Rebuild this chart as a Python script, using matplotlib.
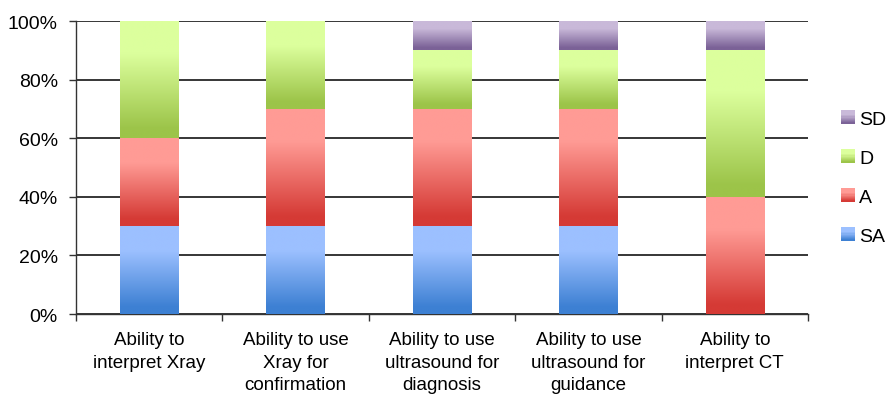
import numpy as np
import matplotlib
matplotlib.use("Agg")
import matplotlib.pyplot as plt
from matplotlib.colors import to_rgb
from matplotlib.patches import Rectangle
from matplotlib.legend_handler import HandlerBase

plt.rcParams['font.family'] = ['Liberation Sans', 'DejaVu Sans']

categories = ["Ability to\ninterpret Xray", "Ability to use\nXray for\nconfirmation",
              "Ability to use\nultrasound for\ndiagnosis", "Ability to use\nultrasound for\nguidance",
              "Ability to\ninterpret CT"]
series_names = ["SA", "A", "D", "SD"]
SA = [30, 30, 30, 30, 0]
A = [30, 40, 40, 40, 40]
D = [40, 30, 20, 20, 50]
SD = [0, 0, 10, 10, 10]
series_values = [SA, A, D, SD]
y_ticks = [0, 20, 40, 60, 80, 100]
y_tick_labels = ["0%", "20%", "40%", "60%", "80%", "100%"]

colors = {
    "SA": ("#3d80d3", "#9cc0ff"),
    "A": ("#d53a35", "#ff9b95"),
    "D": ("#9cc449", "#dcff9d"),
    "SD": ("#7b6297", "#c9b9d9"),
}

def make_grad(dark, light, n=256):
    d = np.array(to_rgb(dark)); l = np.array(to_rgb(light))
    t = np.linspace(0, 1, n)
    f = np.clip((t - 0.08) / (0.72 - 0.08), 0, 1)
    arr = d[None, :] * (1 - f[:, None]) + l[None, :] * f[:, None]
    return arr  # bottom to top

fig = plt.figure(figsize=(8.87, 4.02), dpi=100)
ax = fig.add_axes([76/887, 1-315/402, (808-76)/887, (315-22)/402])

width = 0.4
x = np.arange(len(categories))
bottom = np.zeros(len(categories))
for name, vals in zip(series_names, series_values):
    grad = make_grad(*colors[name])
    img = grad[::-1][:, None, :]  # top row first
    for i, v in enumerate(vals):
        if v <= 0:
            continue
        ax.imshow(img, extent=[x[i]-width/2, x[i]+width/2, bottom[i], bottom[i]+v],
                  aspect='auto', interpolation='bilinear', zorder=3)
    bottom += np.array(vals)

ax.set_xlim(-0.5, len(categories)-0.5)
ax.set_ylim(0, 100)
ax.set_yticks(y_ticks)
ax.set_yticklabels(y_tick_labels, fontsize=14)
ax.yaxis.grid(True, color='black', linewidth=1.1, zorder=0)
ax.set_axisbelow(True)
ax.tick_params(axis='y', length=5, width=1, pad=8, color='#333333')

ax.set_xticks(np.arange(-0.5, len(categories)), minor=False)
ax.set_xticklabels([], minor=False)
ax.set_xticks(x, minor=True)
ax.set_xticklabels(categories, minor=True, fontsize=13.5, linespacing=1.45, va='top')
ax.tick_params(axis='x', which='major', length=5, width=1, direction='out', color='#333333')
ax.tick_params(axis='x', which='minor', length=0, pad=12)

for s in ['top', 'right']:
    ax.spines[s].set_visible(False)
for s in ['left', 'bottom']:
    ax.spines[s].set_color('#333333')
    ax.spines[s].set_linewidth(1.0)

class GradHandler(HandlerBase):
    def __init__(self, dark, light):
        super().__init__()
        self.dark = dark; self.light = light
    def create_artists(self, legend, orig_handle, xdescent, ydescent, width, height, fontsize, trans):
        n = 12
        grad = make_grad(self.dark, self.light, n)
        arts = []
        size = height * 1.0
        x0 = -xdescent + width - size
        y0 = -ydescent
        for k in range(n):
            r = Rectangle((x0, y0 + size*k/n), size, size/n + 0.2, facecolor=grad[k],
                          edgecolor='none', transform=trans)
            arts.append(r)
        return arts

handles = []
hmap = {}
for name in series_names[::-1]:
    h = Rectangle((0, 0), 1, 1)
    handles.append(h)
    hmap[h] = GradHandler(*colors[name])
leg = fig.legend(handles, series_names[::-1], handler_map=hmap, loc='center left',
                 bbox_to_anchor=(823/887, 1-179/402), frameon=False, fontsize=14,
                 labelspacing=1.1, handlelength=0.75, handletextpad=0.2)

fig.savefig("out.png", dpi=100)
